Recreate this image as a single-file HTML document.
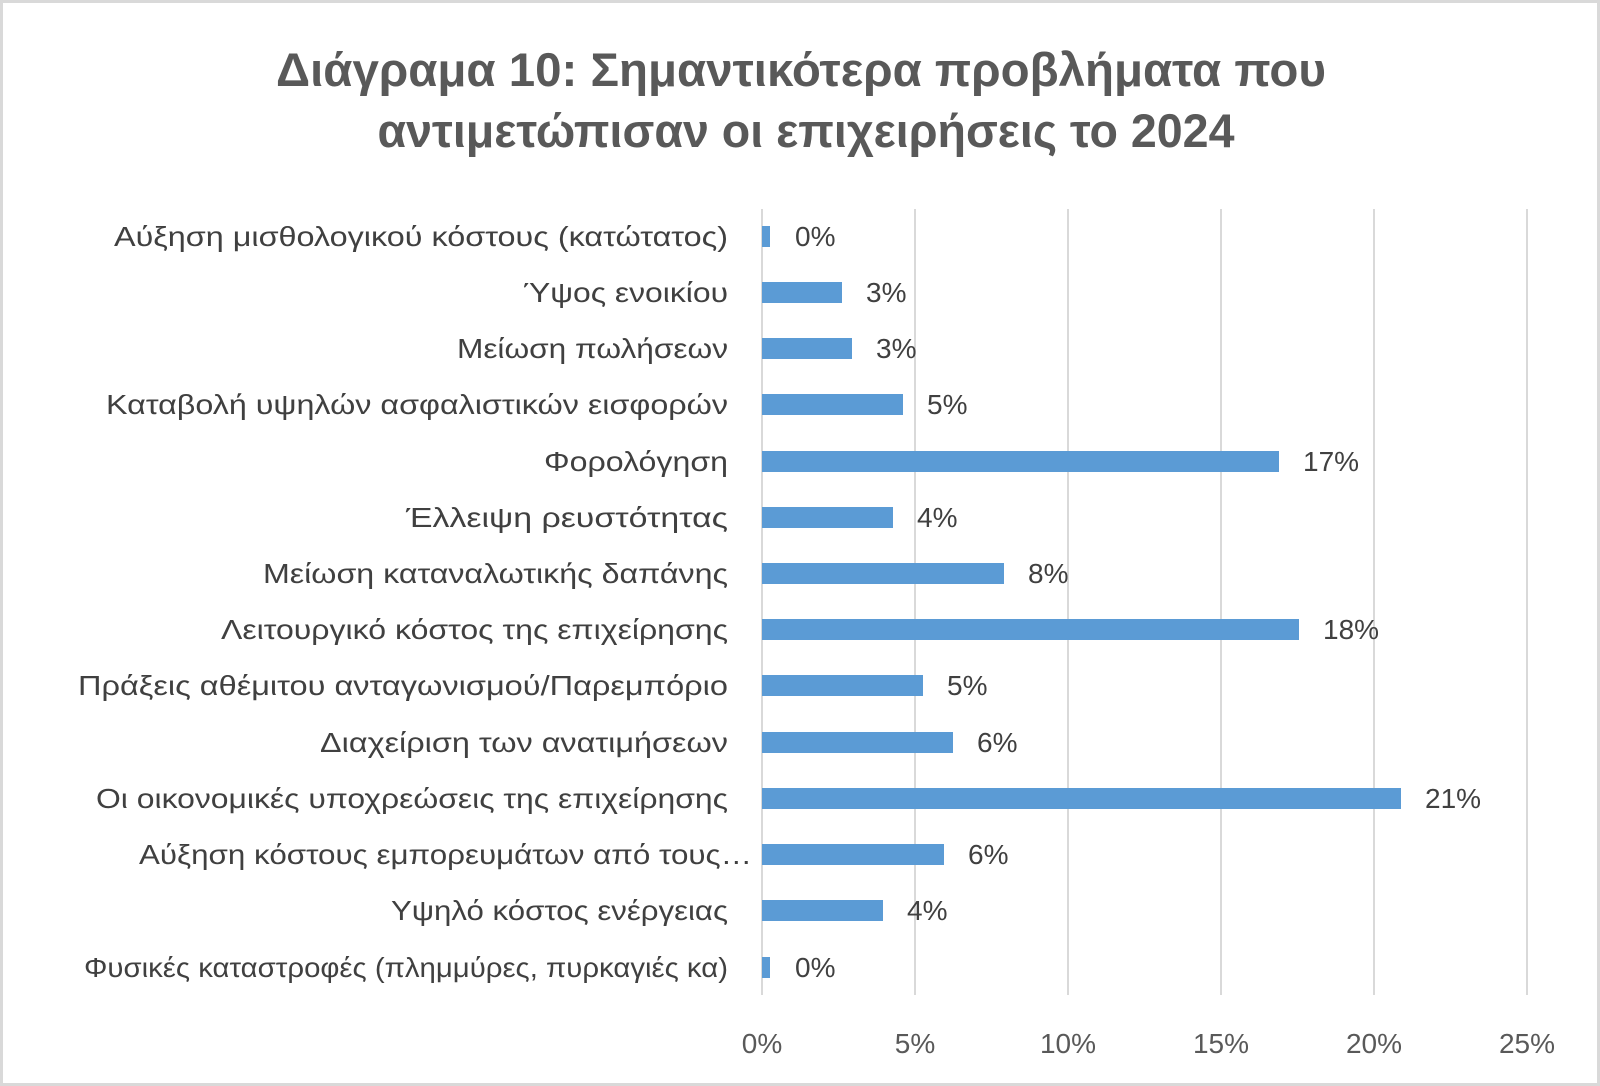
<!DOCTYPE html>
<html><head><meta charset="utf-8"><style>
html,body{margin:0;padding:0;background:#fff}
svg{display:block}
text{font-family:"Liberation Sans","DejaVu Sans",sans-serif}
</style></head><body>
<svg width="1600" height="1086" viewBox="0 0 1600 1086" xmlns="http://www.w3.org/2000/svg">
<rect x="1.5" y="1.5" width="1597" height="1083" fill="#fff" stroke="#d9d9d9" stroke-width="3"/>
<g fill="#595959" font-weight="bold" font-size="47" text-anchor="middle">
<text x="801" y="86" textLength="1050" lengthAdjust="spacingAndGlyphs">Διάγραμα 10: Σημαντικότερα προβλήματα που</text>
<text x="806" y="147" textLength="857" lengthAdjust="spacingAndGlyphs">αντιμετώπισαν οι επιχειρήσεις το 2024</text>
</g>
<g stroke="#d9d9d9" stroke-width="2">
<line x1="762" y1="209" x2="762" y2="995"/>
<line x1="915" y1="209" x2="915" y2="995"/>
<line x1="1068" y1="209" x2="1068" y2="995"/>
<line x1="1221" y1="209" x2="1221" y2="995"/>
<line x1="1374" y1="209" x2="1374" y2="995"/>
<line x1="1527" y1="209" x2="1527" y2="995"/>
</g>
<g fill="#5b9bd5">
<rect x="762" y="226" width="8" height="21"/>
<rect x="762" y="282" width="80" height="21"/>
<rect x="762" y="338" width="90" height="21"/>
<rect x="762" y="394" width="141" height="21"/>
<rect x="762" y="451" width="517" height="21"/>
<rect x="762" y="507" width="131" height="21"/>
<rect x="762" y="563" width="242" height="21"/>
<rect x="762" y="619" width="537" height="21"/>
<rect x="762" y="675" width="161" height="21"/>
<rect x="762" y="732" width="191" height="21"/>
<rect x="762" y="788" width="639" height="21"/>
<rect x="762" y="844" width="182" height="21"/>
<rect x="762" y="900" width="121" height="21"/>
<rect x="762" y="957" width="8" height="21"/>
</g>
<g fill="#404040" font-size="28" text-anchor="end">
<text x="728" y="246" textLength="614" lengthAdjust="spacingAndGlyphs">Αύξηση μισθολογικού κόστους (κατώτατος)</text>
<text x="728" y="302" textLength="205" lengthAdjust="spacingAndGlyphs">Ύψος ενοικίου</text>
<text x="728" y="358" textLength="271" lengthAdjust="spacingAndGlyphs">Μείωση πωλήσεων</text>
<text x="728" y="414" textLength="622" lengthAdjust="spacingAndGlyphs">Καταβολή υψηλών ασφαλιστικών εισφορών</text>
<text x="728" y="471" textLength="184" lengthAdjust="spacingAndGlyphs">Φορολόγηση</text>
<text x="728" y="527" textLength="322" lengthAdjust="spacingAndGlyphs">Έλλειψη ρευστότητας</text>
<text x="728" y="583" textLength="465" lengthAdjust="spacingAndGlyphs">Μείωση καταναλωτικής δαπάνης</text>
<text x="728" y="639" textLength="507" lengthAdjust="spacingAndGlyphs">Λειτουργικό κόστος της επιχείρησης</text>
<text x="728" y="695" textLength="650" lengthAdjust="spacingAndGlyphs">Πράξεις αθέμιτου ανταγωνισμού/Παρεμπόριο</text>
<text x="728" y="752" textLength="408" lengthAdjust="spacingAndGlyphs">Διαχείριση των ανατιμήσεων</text>
<text x="728" y="808" textLength="632" lengthAdjust="spacingAndGlyphs">Οι οικονομικές υποχρεώσεις της επιχείρησης</text>
<text x="752" y="864" textLength="613" lengthAdjust="spacingAndGlyphs">Αύξηση κόστους εμπορευμάτων από τους…</text>
<text x="728" y="920" textLength="337" lengthAdjust="spacingAndGlyphs">Υψηλό κόστος ενέργειας</text>
<text x="728" y="977" textLength="644" lengthAdjust="spacingAndGlyphs">Φυσικές καταστροφές (πλημμύρες, πυρκαγιές κα)</text>
</g>
<g fill="#404040" font-size="28">
<text x="795" y="246">0%</text>
<text x="866" y="302">3%</text>
<text x="876" y="358">3%</text>
<text x="927" y="414">5%</text>
<text x="1303" y="471">17%</text>
<text x="917" y="527">4%</text>
<text x="1028" y="583">8%</text>
<text x="1323" y="639">18%</text>
<text x="947" y="695">5%</text>
<text x="977" y="752">6%</text>
<text x="1425" y="808">21%</text>
<text x="968" y="864">6%</text>
<text x="907" y="920">4%</text>
<text x="795" y="977">0%</text>
</g>
<g fill="#595959" font-size="28" text-anchor="middle">
<text x="762" y="1053">0%</text>
<text x="915" y="1053">5%</text>
<text x="1068" y="1053">10%</text>
<text x="1221" y="1053">15%</text>
<text x="1374" y="1053">20%</text>
<text x="1527" y="1053">25%</text>
</g>
</svg>
</body></html>
